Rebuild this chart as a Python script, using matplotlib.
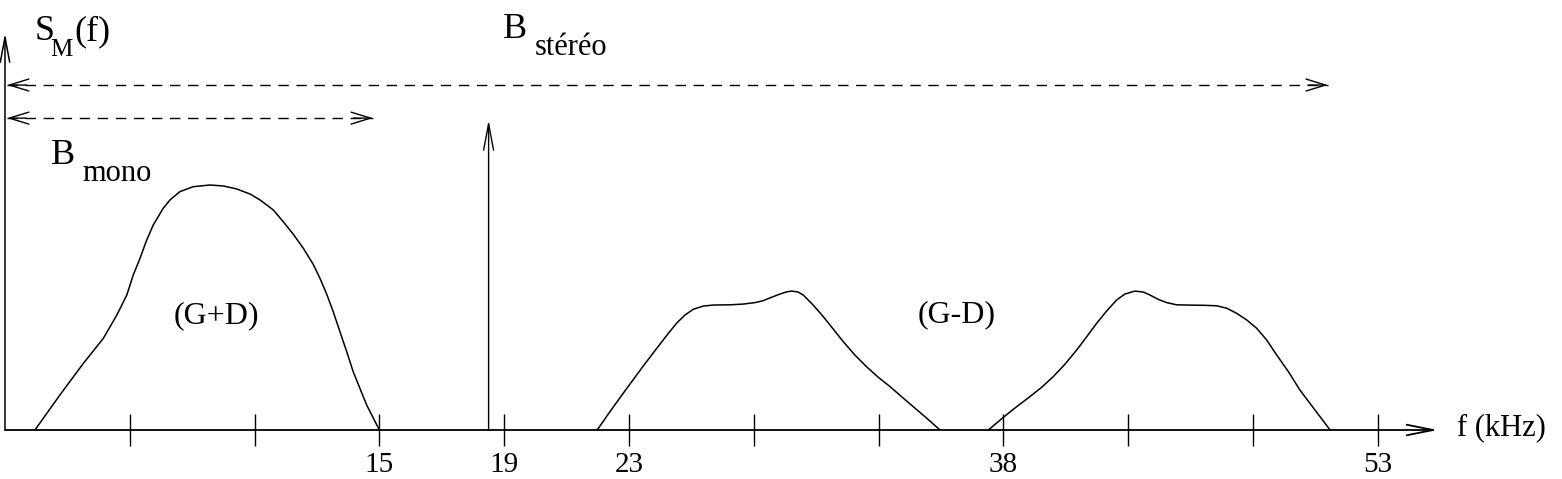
import numpy as np
import matplotlib
matplotlib.use("Agg")
import matplotlib.pyplot as plt

plt.rcParams['font.family'] = ['Liberation Serif', 'DejaVu Serif']

# graduations of the (schematic) frequency axis, kHz
tick_khz = [5, 10, 15, 19, 23, 28, 33, 38, 43, 48, 53]
tick_labels = ['', '', '15', '19', '23', '', '', '38', '', '', '53']

# the drawing is not to scale: every graduation has the same width
ref_khz = [-10, 0, 5, 10, 15, 19, 23, 28, 33, 38, 43, 48, 53, 80]
ref_idx = [-2, 0, 1, 2, 3, 4, 5, 6, 7, 8, 9, 10, 11, 16.4]

# spectrum (G+D), 0..15 kHz
mono_khz = [1.20, 2.20, 3.14, 3.94, 4.48, 4.88, 5.14, 5.41, 5.68, 5.94, 6.34,
            6.61, 7.01, 7.54, 8.21, 8.75, 9.28, 9.82, 10.22, 10.75, 11.15,
            11.55, 11.95, 12.35, 12.62, 12.89, 13.15, 13.42, 13.69, 13.95,
            14.22, 14.49, 15.0]
mono_amp = [0, 0.143, 0.272, 0.374, 0.469, 0.551, 0.633, 0.701, 0.776, 0.837,
            0.905, 0.939, 0.973, 0.993, 1.0, 0.996, 0.984, 0.963, 0.939, 0.898,
            0.850, 0.799, 0.742, 0.676, 0.619, 0.554, 0.483, 0.401, 0.320,
            0.238, 0.170, 0.102, 0]

# lower sideband (G-D)
lsb_khz = [21.98, 22.39, 22.93, 23.57, 24.11, 24.58, 24.91, 25.24, 25.58,
           25.98, 26.38, 27.04, 27.58, 28.05, 28.38, 28.72, 29.05, 29.32,
           29.52, 29.78, 29.98, 30.38, 30.79, 31.19, 31.59, 32.05, 32.52,
           32.99, 33.46, 33.92, 34.39, 34.93, 35.46]
lsb_amp = [0, 0.075, 0.170, 0.261, 0.333, 0.395, 0.436, 0.469, 0.493, 0.506,
           0.510, 0.511, 0.514, 0.520, 0.528, 0.542, 0.555, 0.564, 0.567,
           0.563, 0.551, 0.510, 0.462, 0.411, 0.360, 0.306, 0.258, 0.215,
           0.177, 0.136, 0.095, 0.048, 0]

# upper sideband (G-D)
usb_khz = [37.40, 38.00, 38.53, 39.06, 39.53, 40.00, 40.47, 40.94, 41.34,
           41.74, 42.14, 42.54, 42.87, 43.27, 43.61, 43.87, 44.21, 44.54,
           44.94, 45.34, 46.01, 46.55, 46.95, 47.35, 47.75, 48.15, 48.55,
           48.95, 49.42, 49.88, 50.48, 51.09]
usb_amp = [0, 0.052, 0.095, 0.136, 0.174, 0.218, 0.269, 0.327, 0.381, 0.436,
           0.486, 0.531, 0.555, 0.567, 0.563, 0.551, 0.533, 0.520, 0.511,
           0.510, 0.509, 0.507, 0.497, 0.476, 0.449, 0.415, 0.367, 0.306,
           0.238, 0.163, 0.082, 0]

pilot_khz = 18.5
pilot_amp = 1.265

# bandwidth arrows: (start kHz, end kHz, level)
b_stereo = (0.08, 51.0, 1.408)
b_mono = (0.08, 14.74, 1.273)


def fwd(f):
    return np.interp(f, ref_khz, ref_idx)


def inv(i):
    return np.interp(i, ref_idx, ref_khz)


W, H = 1562, 479
fig = plt.figure(figsize=(W / 100, H / 100), dpi=100)
ax = fig.add_axes([0, 0, 1, 1])
ax.set_xscale('function', functions=(fwd, inv))
ax.set_xlim(-0.2, 60.38)
ax.set_ylim(-0.2, 1.7551)
ax.set_frame_on(False)
ax.spines['bottom'].set_position(('data', 0))

ax.set_xticks(tick_khz)
ax.set_xticklabels(tick_labels)
ax.xaxis.set_minor_locator(matplotlib.ticker.NullLocator())
ax.tick_params(axis='x', direction='inout', length=23, width=1.0,
               pad=4.5, labelsize=21, color='black')
ax.set_yticks([])

lw = 1.1
for xs, ys in ((mono_khz, mono_amp), (lsb_khz, lsb_amp), (usb_khz, usb_amp)):
    ax.plot(xs, ys, color='black', lw=lw, solid_joinstyle='round')


def arrow(xy, xytext, hl, hw, lw=1.0, coords='data'):
    ax.annotate('', xy=xy, xytext=xytext, textcoords=coords,
                arrowprops=dict(arrowstyle='->,head_length=%g,head_width=%g' % (hl, hw),
                                mutation_scale=1, shrinkA=0, shrinkB=0,
                                color='black', lw=lw))


# axes
arrow((55.4, 0), (0, 0), 19, 3.8, lw=1.3)
arrow((0, 1.62), (0, 0), 18, 3.4, lw=1.1)

# pilot 19 kHz
arrow((pilot_khz, pilot_amp), (pilot_khz, 0), 19, 3.6, lw=1.0)

# bandwidths
for x0, x1, lev in (b_stereo, b_mono):
    ax.plot([x0, x1], [lev, lev], color='black', lw=1.0, ls=(0, (7.5, 5.5)))
    arrow((x0, lev), (14, 0), 14, 4.3, lw=1.0, coords='offset points')
    arrow((x1, lev), (-14, 0), 14, 4.3, lw=1.0, coords='offset points')


def label(px, py, s, size):
    fig.text(px / W, 1 - py / H, s, fontsize=size, ha='left', va='baseline')


label(35, 40, 'S', 26)
label(50, 56, 'M', 18)
label(74, 40, '(f)', 26)
label(503, 38, 'B', 26)
label(535, 55, 'stéréo', 22)
label(51, 164, 'B', 26)
label(82, 181, 'mono', 22)
label(174, 323, '(G+D)', 23)
label(918, 322, '(G-D)', 23)
label(1457, 435, 'f (kHz)', 22)

fig.savefig('out.png', dpi=100)
